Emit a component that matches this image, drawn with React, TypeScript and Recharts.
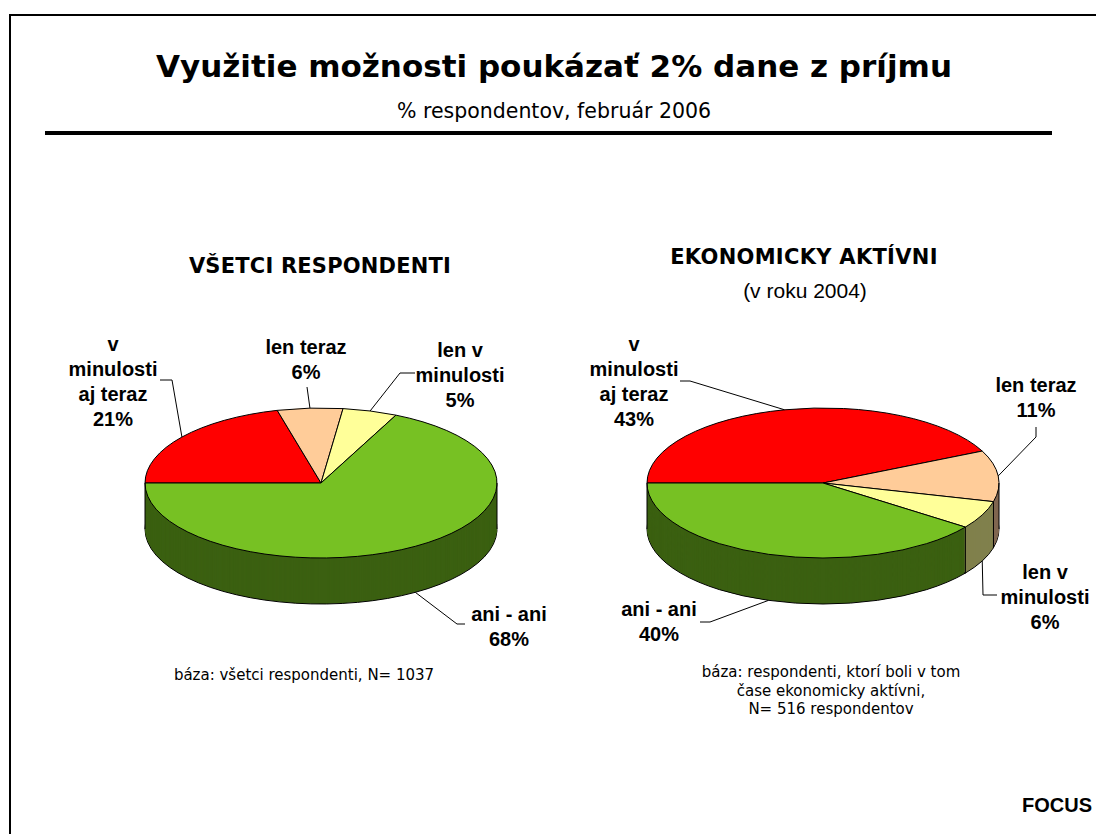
import React from "react";
import { PieChart, Pie, Cell } from "recharts";

// categories and values
const categories = ["v minulosti aj teraz", "len teraz", "len v minulosti", "ani - ani"];
const categoryLines = [["v", "minulosti", "aj teraz"], ["len teraz"], ["len v", "minulosti"], ["ani - ani"]];
const allValues = [21, 6, 5, 68];
const activeValues = [43, 11, 6, 40];

const topColors = ["#FF0000", "#FFCC99", "#FFFF99", "#77C123"];
const sideColors = ["#800000", "#806650", "#80804C", "#3B6011"];

// geometry of the tilted pies
const RX = 176;
const SQUASH = 75 / 176;
const DEPTH = 46;
const LINE = 25;

type LabelPos = { x: number; y: number; leader: number[][] };
type Layout = { id: string; cx: number; cy: number; labels: LabelPos[] };

const leftLayout: Layout = {
    id: "all",
    cx: 321,
    cy: 483,
    labels: [
        { x: 113, y: 351, leader: [[160, 380], [172, 380]] },
        { x: 306, y: 354, leader: [[307, 387]] },
        { x: 460, y: 357, leader: [[415, 373], [400, 373]] },
        { x: 509, y: 621, leader: [[465, 624], [457, 624]] },
    ],
};

const rightLayout: Layout = {
    id: "active",
    cx: 823,
    cy: 483,
    labels: [
        { x: 634, y: 351, leader: [[680, 381], [690, 381]] },
        { x: 1036, y: 392, leader: [[1036, 427], [1036, 437]] },
        { x: 1045, y: 579, leader: [[997, 595], [983, 595]] },
        { x: 659, y: 616, leader: [[700, 622], [710, 622]] },
    ],
};

const toData = (values: number[]) => categories.map((name, i) => ({ name, value: values[i] }));

const rad = (deg: number) => (deg * Math.PI) / 180;

const makeLabel = (layout: Layout, values: number[]) => (props: any) => {
    const { index, midAngle, endAngle } = props;
    const pos = layout.labels[index];
    const a = rad(midAngle);
    const front = Math.sin(a) < 0;
    const ax = layout.cx + RX * Math.cos(a);
    const ay = layout.cy - RX * SQUASH * Math.sin(a) + (front ? DEPTH : 0);
    const pts = [...pos.leader, [ax, ay]].map((p) => p.join(",")).join(" ");
    const lines = [...categoryLines[index], `${values[index]}%`];

    // vertical edges on the visible side of the cylinder
    const edges: number[] = [];
    const e = rad(endAngle);
    if (Math.sin(e) < -0.001) edges.push(endAngle);
    if (index === 0) edges.push(0, 180);

    return (
        <g key={`label-${layout.id}-${index}`}>
            {edges.map((deg) => {
                const x = layout.cx + RX * Math.cos(rad(deg));
                const y = layout.cy - RX * SQUASH * Math.sin(rad(deg));
                return <line key={deg} x1={x} y1={y} x2={x} y2={y + DEPTH} stroke="#000" strokeWidth={1} />;
            })}
            <polyline points={pts} fill="none" stroke="#000" strokeWidth={1} />
            <text
                textAnchor="middle"
                fontFamily="'Liberation Sans', Arial, sans-serif"
                fontWeight={700}
                fontSize={20}
                fill="#000"
            >
                {lines.map((t, i) => (
                    <tspan key={i} x={pos.x} y={pos.y + i * LINE}>
                        {t}
                    </tspan>
                ))}
            </text>
        </g>
    );
};

const pie3d = (layout: Layout, values: number[]) => {
    const data = toData(values);
    const sides = Array.from({ length: DEPTH }, (_, k) => DEPTH - k).map((d) => (
        <Pie
            key={`${layout.id}-side-${d}`}
            data={data}
            dataKey="value"
            nameKey="name"
            cx={layout.cx}
            cy={(layout.cy + d) / SQUASH}
            outerRadius={RX}
            startAngle={180}
            endAngle={-180}
            stroke={d === DEPTH ? "#000" : "none"}
            strokeWidth={1}
            isAnimationActive={false}
            labelLine={false}
        >
            {data.map((_, i) => (
                <Cell key={i} fill={sideColors[i]} />
            ))}
        </Pie>
    ));
    const top = (
        <Pie
            key={`${layout.id}-top`}
            data={data}
            dataKey="value"
            nameKey="name"
            cx={layout.cx}
            cy={layout.cy / SQUASH}
            outerRadius={RX}
            startAngle={180}
            endAngle={-180}
            stroke="#000"
            strokeWidth={1}
            isAnimationActive={false}
            labelLine={false}
            label={makeLabel(layout, values)}
        >
            {data.map((_, i) => (
                <Cell key={i} fill={topColors[i]} />
            ))}
        </Pie>
    );
    return [...sides, top];
};

const verdana = "'DejaVu Sans', Verdana, sans-serif";
const arial = "'Liberation Sans', Arial, sans-serif";

export default function App() {
    return (
        <div style={{ position: "absolute", left: 0, top: 0, width: 1096, height: 834, background: "#fff", overflow: "hidden" }}>
            <style>{`.pie3d .recharts-sector{transform:scaleY(${SQUASH});transform-origin:0 0;vector-effect:non-scaling-stroke}`}</style>
            <svg width={1096} height={834} style={{ position: "absolute", left: 0, top: 0 }}>
                <line x1={10} y1={15} x2={1096} y2={15} stroke="#000" strokeWidth={2} />
                <line x1={10} y1={14} x2={10} y2={834} stroke="#000" strokeWidth={2} />
                <text x={554} y={77} textAnchor="middle" fontFamily={verdana} fontWeight={700} fontSize={31}>
                    Využitie možnosti poukázať 2% dane z príjmu
                </text>
                <text x={554} y={118} textAnchor="middle" fontFamily={verdana} fontSize={20.5}>
                    % respondentov, február 2006
                </text>
                <rect x={45} y={131} width={1007} height={4} fill="#000" />
                <text x={320} y={273} textAnchor="middle" fontFamily={verdana} fontWeight={700} fontSize={21} letterSpacing={0.2}>
                    VŠETCI RESPONDENTI
                </text>
                <text x={804} y={264} textAnchor="middle" fontFamily={verdana} fontWeight={700} fontSize={21} letterSpacing={0.3}>
                    EKONOMICKY AKTÍVNI
                </text>
                <text x={805} y={298} textAnchor="middle" fontFamily={arial} fontSize={21}>
                    (v roku 2004)
                </text>
                <text x={304} y={680} textAnchor="middle" fontFamily={verdana} fontSize={15}>
                    báza: všetci respondenti, N= 1037
                </text>
                <text textAnchor="middle" fontFamily={verdana} fontSize={15}>
                    <tspan x={831} y={677}>báza: respondenti, ktorí boli v tom</tspan>
                    <tspan x={831} y={696}>čase ekonomicky aktívni,</tspan>
                    <tspan x={831} y={714}>N= 516 respondentov</tspan>
                </text>
                <text x={1092} y={812} textAnchor="end" fontFamily={arial} fontWeight={700} fontSize={20}>
                    FOCUS
                </text>
            </svg>
            <div className="pie3d" style={{ position: "absolute", left: 0, top: 0 }}>
                <PieChart width={1096} height={834} margin={{ top: 0, right: 0, bottom: 0, left: 0 }}>
                    {pie3d(leftLayout, allValues)}
                    {pie3d(rightLayout, activeValues)}
                </PieChart>
            </div>
        </div>
    );
}
